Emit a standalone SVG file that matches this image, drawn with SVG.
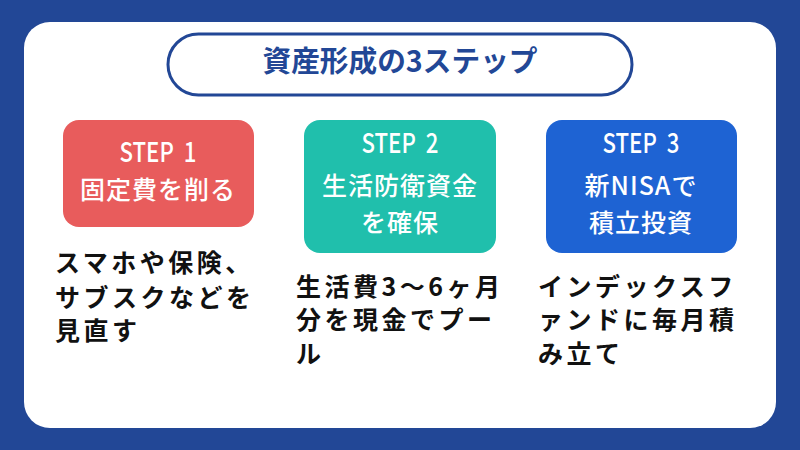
<svg xmlns="http://www.w3.org/2000/svg" width="800" height="450" viewBox="0 0 800 450">
<style>
.jp{font-family:"Noto Sans CJK JP","Noto Sans",sans-serif}
.step{font-size:27px;font-weight:500;fill:#fff;text-anchor:middle}
.lbl{font-size:25px;font-weight:500;fill:#fff;text-anchor:middle;letter-spacing:1px}
.desc{font-size:25px;font-weight:700;fill:#111;letter-spacing:3.5px}
</style>
<rect x="0" y="0" width="800" height="450" fill="#224796"/>
<rect x="24" y="22" width="752" height="406" rx="26" fill="#fff"/>
<g id="title">
<rect x="168" y="34" width="464" height="61" rx="30.5" fill="#fff" stroke="#224796" stroke-width="3"/>
<text class="jp" x="400" y="72" font-size="29" font-weight="700" fill="#224796" text-anchor="middle" textLength="275" lengthAdjust="spacingAndGlyphs">資産形成の3ステップ</text>
</g>
<g id="step1">
<rect x="63" y="120" width="191" height="107" rx="16" fill="#e85c5c"/>
<text class="jp step" x="158" y="162" xml:space="preserve" textLength="77" lengthAdjust="spacingAndGlyphs">STEP  1</text>
<text class="jp lbl" x="158" y="199">固定費を削る</text>
<text class="jp desc" x="55" y="272">スマホや保険、</text>
<text class="jp desc" x="55" y="307">サブスクなどを</text>
<text class="jp desc" x="55" y="340">見直す</text>
</g>
<g id="step2">
<rect x="304" y="120" width="192" height="133" rx="16" fill="#20bfac"/>
<text class="jp step" x="400" y="153" xml:space="preserve" textLength="77" lengthAdjust="spacingAndGlyphs">STEP  2</text>
<text class="jp lbl" x="400" y="195">生活防衛資金</text>
<text class="jp lbl" x="400" y="232">を確保</text>
<text class="jp desc" x="296" y="296">生活費3〜6ヶ月</text>
<text class="jp desc" x="296" y="329">分を現金でプー</text>
<text class="jp desc" x="296" y="363">ル</text>
</g>
<g id="step3">
<rect x="546" y="120" width="191" height="133" rx="16" fill="#1e63d3"/>
<text class="jp step" x="641" y="153" xml:space="preserve" textLength="77" lengthAdjust="spacingAndGlyphs">STEP  3</text>
<text class="jp lbl" x="641" y="195">新NISAで</text>
<text class="jp lbl" x="641" y="232">積立投資</text>
<text class="jp desc" x="538" y="296">インデックスフ</text>
<text class="jp desc" x="538" y="329">ァンドに毎月積</text>
<text class="jp desc" x="538" y="363">み立て</text>
</g>
<g id="connectors"></g>
</svg>
